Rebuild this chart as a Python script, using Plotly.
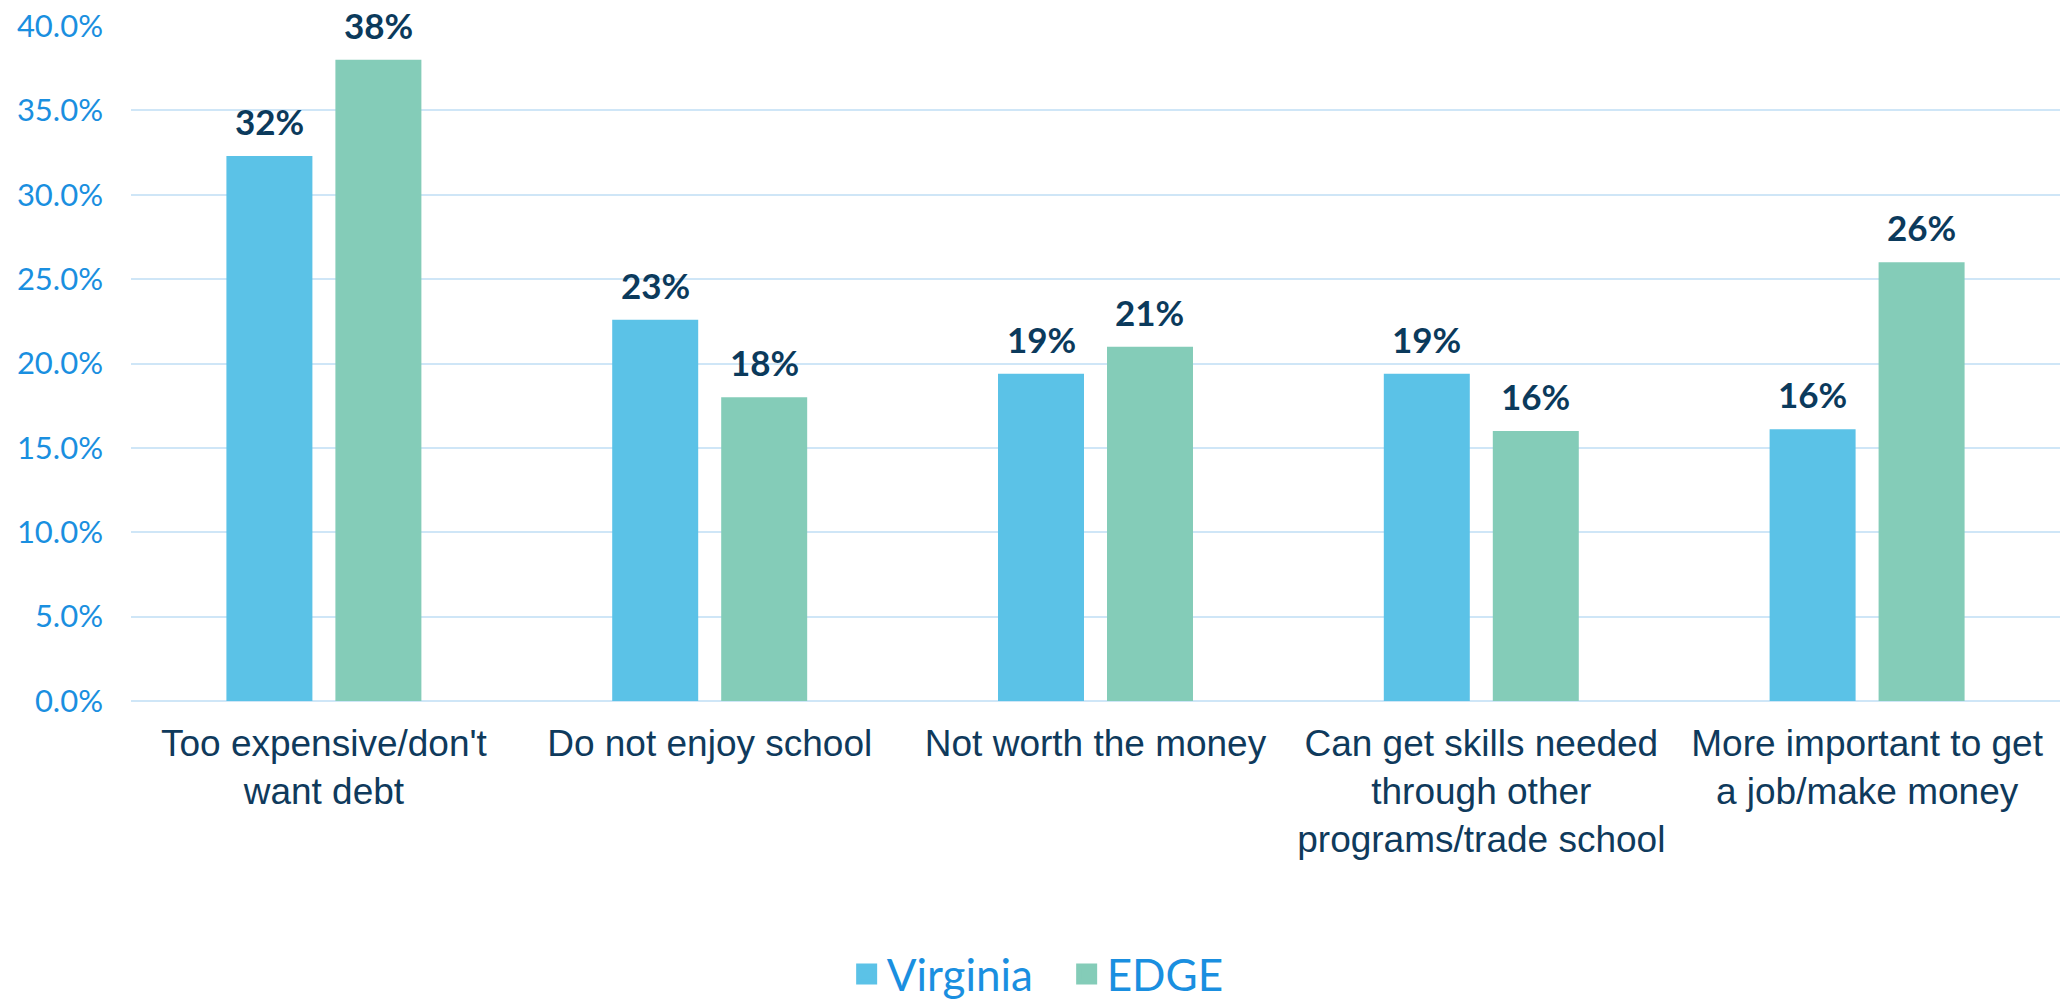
import plotly.graph_objects as go

categories = [
    "Too expensive/don't<br>want debt",
    "Do not enjoy school",
    "Not worth the money",
    "Can get skills needed<br>through other<br>programs/trade school",
    "More important to get<br>a job/make money",
]
virginia = [0.323, 0.226, 0.194, 0.194, 0.161]
edge = [0.380, 0.180, 0.210, 0.160, 0.260]
series_names = ["Virginia", "EDGE"]
series_colors = ["#5BC2E7", "#84CCB8"]
y_ticks = [0, 0.05, 0.10, 0.15, 0.20, 0.25, 0.30, 0.35, 0.40]

W, H = 2069, 999
ML, MR, MT, MB = 131, 9, 26, 298
BARGAP = 0.435
GROUPGAP = 0.211
LABEL_FONT = "Lato, 'Noto Sans', sans-serif"
LABEL_COLOR = "#0B3A5C"
TICK_COLOR = "#1A8FE0"
GRID_COLOR = "#CFE6F7"

fig = go.Figure()
for name, vals, col in zip(series_names, [virginia, edge], series_colors):
    fig.add_trace(go.Bar(x=categories, y=vals, name=name, marker_color=col,
                         marker_line_width=0, showlegend=False))
    # legend proxy with a larger square symbol
    fig.add_trace(go.Scatter(x=[None], y=[None], mode="markers", name=name,
                             marker=dict(symbol="square", size=16, color=col,
                                         line=dict(width=5, color=col))))

# value labels above bars
plot_w = W - ML - MR
cat_w = plot_w / len(categories)
group_w = cat_w * (1 - BARGAP)
offsets = [-group_w / 4, group_w / 4]
for vals, off in zip([virginia, edge], offsets):
    for c, v in zip(categories, vals):
        fig.add_annotation(x=c, y=v, xref="x", yref="y", text=f"<b>{round(v*100)}%</b>",
                           showarrow=False, xshift=off, yshift=12, yanchor="bottom",
                           font=dict(family=LABEL_FONT, size=35, color=LABEL_COLOR))

fig.update_layout(
    width=W, height=H,
    margin=dict(l=ML, r=MR, t=MT, b=MB, autoexpand=False),
    barmode="group", bargap=BARGAP, bargroupgap=GROUPGAP,
    plot_bgcolor="white", paper_bgcolor="white",
    legend=dict(orientation="h", xref="paper", yref="paper",
                x=0.371, xanchor="left", y=-0.405, yanchor="middle",
                entrywidth=175, entrywidthmode="pixels",
                font=dict(family=LABEL_FONT, size=44, color=TICK_COLOR),
                itemsizing="trace"),
)
fig.update_yaxes(range=[0, 0.40], tickvals=y_ticks, tickformat=".1%",
                 showgrid=True, gridcolor=GRID_COLOR, gridwidth=2,
                 zeroline=True, zerolinecolor=GRID_COLOR, zerolinewidth=2,
                 showline=False, ticks="", ticklabelstandoff=27, automargin=False,
                 tickfont=dict(family=LABEL_FONT, size=31, color=TICK_COLOR))
fig.update_xaxes(showgrid=False, showline=False, ticks="", ticklabelstandoff=17,
                 automargin=False,
                 tickfont=dict(family="'Liberation Sans', Arial, sans-serif", size=37,
                               color="#0F3A5C"))

fig.write_html("out.html", config={"displayModeBar": False},
               post_script="document.body.style.margin='0';document.body.style.overflow='hidden';")
